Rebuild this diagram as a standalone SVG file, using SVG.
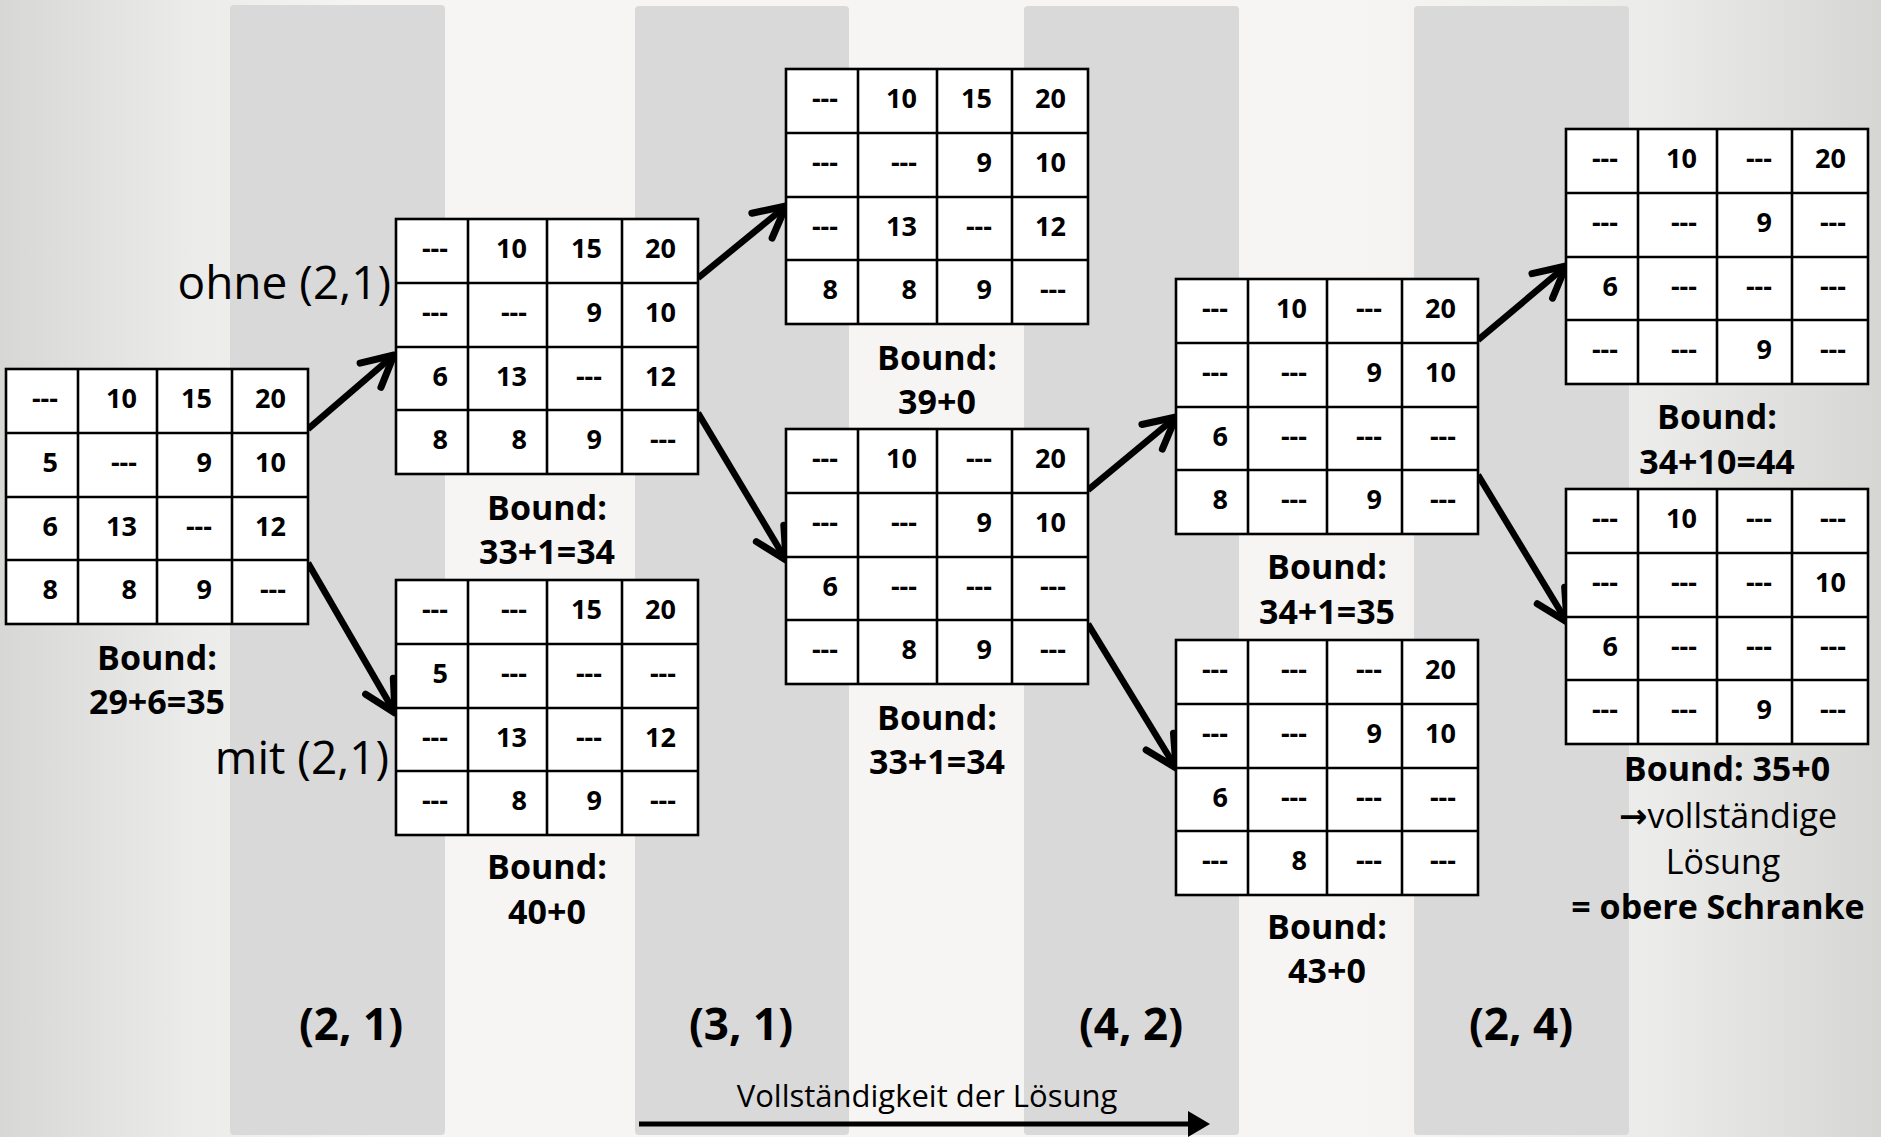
<svg xmlns="http://www.w3.org/2000/svg" width="1881" height="1137" viewBox="0 0 1881 1137">
<style>
.bg{fill:url(#bgGrad)}
.stripe{fill:#d9d9d9}
.cellbox{fill:#fff;stroke:#000;stroke-width:2.6}
.cellline{stroke:#000;stroke-width:2.6}
.tbl text{font-family:"Open Sans","Noto Sans","DejaVu Sans",sans-serif;font-weight:bold;font-size:27px;text-anchor:end;fill:#000}
.bound{font-family:"Open Sans","Noto Sans","DejaVu Sans",sans-serif;font-weight:bold;font-size:34px;text-anchor:middle;fill:#000}
.reg{font-family:"Open Sans","Noto Sans","DejaVu Sans",sans-serif;font-size:34px;text-anchor:middle;fill:#000}
.side{font-family:"Open Sans","Noto Sans","DejaVu Sans",sans-serif;font-size:46px;text-anchor:end;fill:#000}
.col{font-family:"Open Sans","Noto Sans","DejaVu Sans",sans-serif;font-weight:bold;font-size:44px;text-anchor:middle;fill:#000}
.axis{font-family:"Open Sans","Noto Sans","DejaVu Sans",sans-serif;font-size:31px;text-anchor:middle;fill:#000}
.conn{stroke:#000;stroke-width:6.5;fill:none;marker-end:url(#ah)}
</style>
<defs>
<linearGradient id="bgGrad" x1="0" y1="0" x2="1" y2="0">
<stop offset="0" stop-color="#d7d7d6"/>
<stop offset="0.1" stop-color="#ebebea"/>
<stop offset="0.2" stop-color="#f6f5f3"/>
<stop offset="0.72" stop-color="#f6f5f3"/>
<stop offset="0.88" stop-color="#ebebe9"/>
<stop offset="1" stop-color="#d6d6d5"/>
</linearGradient>
<marker id="ah" markerUnits="userSpaceOnUse" viewBox="-40 -25 50 50" markerWidth="50" markerHeight="50" refX="0" refY="0" orient="auto" overflow="visible">
<path d="M-31,-16 L0,0 L-31,16" fill="none" stroke="#000" stroke-width="7" stroke-linecap="round" stroke-linejoin="round"/>
</marker>
<g id="grid">
<rect class="cellbox" x="0" y="0" width="302" height="255" fill="#fff" stroke="#000" stroke-width="2.6"/>
<path class="cellline" d="M72,0V255M151,0V255M226,0V255M0,64H302M0,128H302M0,191H302" fill="none" stroke="#000" stroke-width="2.6"/>
</g>
</defs>

<rect class="bg" x="0" y="0" width="1881" height="1137"/>
<g id="stripes">
<rect class="stripe" x="230" y="5" width="215" height="1130" rx="4"/>
<rect class="stripe" x="635" y="6" width="214" height="1129" rx="4"/>
<rect class="stripe" x="1024" y="6" width="215" height="1129" rx="4"/>
<rect class="stripe" x="1414" y="6" width="215" height="1129" rx="4"/>
</g>

<g id="connectors">
<line class="conn" x1="308" y1="429" x2="394" y2="355"/>
<line class="conn" x1="308" y1="563" x2="395" y2="713"/>
<line class="conn" x1="698" y1="278" x2="786" y2="206"/>
<line class="conn" x1="698" y1="413" x2="786" y2="560"/>
<line class="conn" x1="1088" y1="490" x2="1176" y2="417"/>
<line class="conn" x1="1088" y1="624" x2="1176" y2="768"/>
<line class="conn" x1="1478" y1="340" x2="1566" y2="266"/>
<line class="conn" x1="1478" y1="475" x2="1567" y2="622"/>
</g>

<g id="node-root">
<g class="tbl" transform="translate(6,369)"><use href="#grid"/>
<text x="52" y="39">---</text><text x="131" y="39">10</text><text x="206" y="39">15</text><text x="280" y="39">20</text>
<text x="52" y="103">5</text><text x="131" y="103">---</text><text x="206" y="103">9</text><text x="280" y="103">10</text>
<text x="52" y="167">6</text><text x="131" y="167">13</text><text x="206" y="167">---</text><text x="280" y="167">12</text>
<text x="52" y="230">8</text><text x="131" y="230">8</text><text x="206" y="230">9</text><text x="280" y="230">---</text>
</g>
<text class="bound" x="157" y="670">Bound:</text>
<text class="bound" x="157" y="714">29+6=35</text>
</g>

<g id="node-ohne">
<text class="side" x="391" y="299">ohne (2,1)</text>
<g class="tbl" transform="translate(396,219)"><use href="#grid"/>
<text x="52" y="39">---</text><text x="131" y="39">10</text><text x="206" y="39">15</text><text x="280" y="39">20</text>
<text x="52" y="103">---</text><text x="131" y="103">---</text><text x="206" y="103">9</text><text x="280" y="103">10</text>
<text x="52" y="167">6</text><text x="131" y="167">13</text><text x="206" y="167">---</text><text x="280" y="167">12</text>
<text x="52" y="230">8</text><text x="131" y="230">8</text><text x="206" y="230">9</text><text x="280" y="230">---</text>
</g>
<text class="bound" x="547" y="520">Bound:</text>
<text class="bound" x="547" y="564">33+1=34</text>
</g>

<g id="node-mit">
<text class="side" x="389" y="774">mit (2,1)</text>
<g class="tbl" transform="translate(396,580)"><use href="#grid"/>
<text x="52" y="39">---</text><text x="131" y="39">---</text><text x="206" y="39">15</text><text x="280" y="39">20</text>
<text x="52" y="103">5</text><text x="131" y="103">---</text><text x="206" y="103">---</text><text x="280" y="103">---</text>
<text x="52" y="167">---</text><text x="131" y="167">13</text><text x="206" y="167">---</text><text x="280" y="167">12</text>
<text x="52" y="230">---</text><text x="131" y="230">8</text><text x="206" y="230">9</text><text x="280" y="230">---</text>
</g>
<text class="bound" x="547" y="879">Bound:</text>
<text class="bound" x="547" y="924">40+0</text>
</g>

<g id="node-31-ohne">
<g class="tbl" transform="translate(786,69)"><use href="#grid"/>
<text x="52" y="39">---</text><text x="131" y="39">10</text><text x="206" y="39">15</text><text x="280" y="39">20</text>
<text x="52" y="103">---</text><text x="131" y="103">---</text><text x="206" y="103">9</text><text x="280" y="103">10</text>
<text x="52" y="167">---</text><text x="131" y="167">13</text><text x="206" y="167">---</text><text x="280" y="167">12</text>
<text x="52" y="230">8</text><text x="131" y="230">8</text><text x="206" y="230">9</text><text x="280" y="230">---</text>
</g>
<text class="bound" x="937" y="370">Bound:</text>
<text class="bound" x="937" y="414">39+0</text>
</g>

<g id="node-31-mit">
<g class="tbl" transform="translate(786,429)"><use href="#grid"/>
<text x="52" y="39">---</text><text x="131" y="39">10</text><text x="206" y="39">---</text><text x="280" y="39">20</text>
<text x="52" y="103">---</text><text x="131" y="103">---</text><text x="206" y="103">9</text><text x="280" y="103">10</text>
<text x="52" y="167">6</text><text x="131" y="167">---</text><text x="206" y="167">---</text><text x="280" y="167">---</text>
<text x="52" y="230">---</text><text x="131" y="230">8</text><text x="206" y="230">9</text><text x="280" y="230">---</text>
</g>
<text class="bound" x="937" y="730">Bound:</text>
<text class="bound" x="937" y="774">33+1=34</text>
</g>

<g id="node-42-ohne">
<g class="tbl" transform="translate(1176,279)"><use href="#grid"/>
<text x="52" y="39">---</text><text x="131" y="39">10</text><text x="206" y="39">---</text><text x="280" y="39">20</text>
<text x="52" y="103">---</text><text x="131" y="103">---</text><text x="206" y="103">9</text><text x="280" y="103">10</text>
<text x="52" y="167">6</text><text x="131" y="167">---</text><text x="206" y="167">---</text><text x="280" y="167">---</text>
<text x="52" y="230">8</text><text x="131" y="230">---</text><text x="206" y="230">9</text><text x="280" y="230">---</text>
</g>
<text class="bound" x="1327" y="579">Bound:</text>
<text class="bound" x="1327" y="624">34+1=35</text>
</g>

<g id="node-42-mit">
<g class="tbl" transform="translate(1176,640)"><use href="#grid"/>
<text x="52" y="39">---</text><text x="131" y="39">---</text><text x="206" y="39">---</text><text x="280" y="39">20</text>
<text x="52" y="103">---</text><text x="131" y="103">---</text><text x="206" y="103">9</text><text x="280" y="103">10</text>
<text x="52" y="167">6</text><text x="131" y="167">---</text><text x="206" y="167">---</text><text x="280" y="167">---</text>
<text x="52" y="230">---</text><text x="131" y="230">8</text><text x="206" y="230">---</text><text x="280" y="230">---</text>
</g>
<text class="bound" x="1327" y="939">Bound:</text>
<text class="bound" x="1327" y="983">43+0</text>
</g>

<g id="node-24-ohne">
<g class="tbl" transform="translate(1566,129)"><use href="#grid"/>
<text x="52" y="39">---</text><text x="131" y="39">10</text><text x="206" y="39">---</text><text x="280" y="39">20</text>
<text x="52" y="103">---</text><text x="131" y="103">---</text><text x="206" y="103">9</text><text x="280" y="103">---</text>
<text x="52" y="167">6</text><text x="131" y="167">---</text><text x="206" y="167">---</text><text x="280" y="167">---</text>
<text x="52" y="230">---</text><text x="131" y="230">---</text><text x="206" y="230">9</text><text x="280" y="230">---</text>
</g>
<text class="bound" x="1717" y="429">Bound:</text>
<text class="bound" x="1717" y="474">34+10=44</text>
</g>

<g id="node-24-mit">
<g class="tbl" transform="translate(1566,489)"><use href="#grid"/>
<text x="52" y="39">---</text><text x="131" y="39">10</text><text x="206" y="39">---</text><text x="280" y="39">---</text>
<text x="52" y="103">---</text><text x="131" y="103">---</text><text x="206" y="103">---</text><text x="280" y="103">10</text>
<text x="52" y="167">6</text><text x="131" y="167">---</text><text x="206" y="167">---</text><text x="280" y="167">---</text>
<text x="52" y="230">---</text><text x="131" y="230">---</text><text x="206" y="230">9</text><text x="280" y="230">---</text>
</g>
<text class="bound" x="1727" y="781">Bound: 35+0</text>
<text class="reg" x="1728" y="828"><tspan font-weight="bold">→</tspan>vollständige</text>
<text class="reg" x="1723" y="874">Lösung</text>
<text class="bound" x="1718" y="919">= obere Schranke</text>
</g>

<g id="column-labels">
<text class="col" x="351" y="1040">(2, 1)</text>
<text class="col" x="741" y="1040">(3, 1)</text>
<text class="col" x="1131" y="1040">(4, 2)</text>
<text class="col" x="1521" y="1040">(2, 4)</text>
</g>

<g id="axis">
<text class="axis" x="927" y="1107">Vollständigkeit der Lösung</text>
<line x1="639" y1="1124" x2="1192" y2="1124" stroke="#000" stroke-width="5"/>
<polygon points="1188,1111 1210,1124 1188,1137" fill="#000"/>
</g>
</svg>
